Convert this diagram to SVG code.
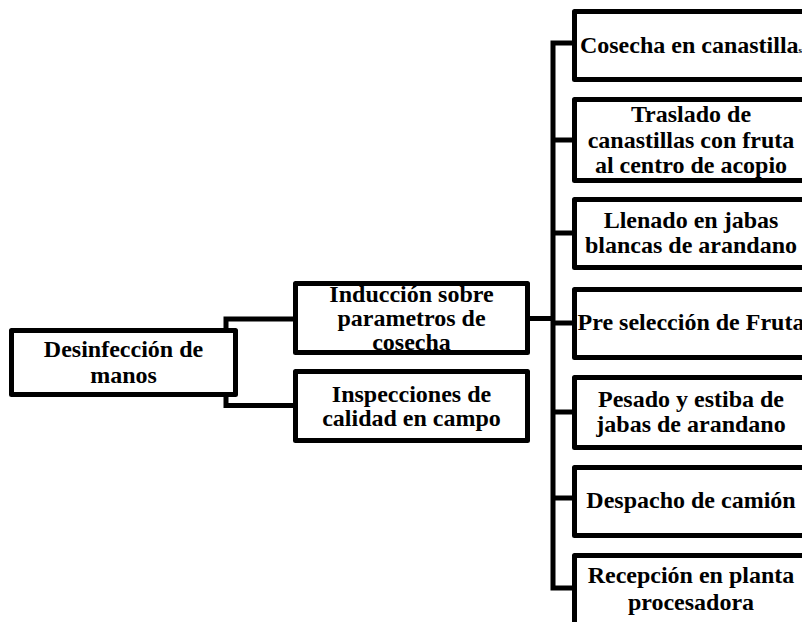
<svg xmlns="http://www.w3.org/2000/svg" width="802" height="622" viewBox="0 0 802 622">
<style>
.box{fill:#fff;stroke:#000;stroke-width:5;stroke-linejoin:round}
.t{font-family:"Liberation Serif","Times New Roman",serif;font-weight:bold;font-size:24px;fill:#000;text-anchor:middle}
.c{fill:none;stroke:#000;stroke-width:5;stroke-linejoin:miter}
</style>
<rect width="802" height="622" fill="#fff"/>
<g id="connectors">
<path class="c" d="M226 331 V319 H296 M226 394 V405.5 H296"/>
<path class="c" d="M528 318.5 H553 M575 43 H553 V588 H575 M553 140 H575 M553 233 H575 M553 323 H575 M553 412 H575 M553 498 H575"/>
</g>
<g id="n-desinfeccion">
<rect class="box" x="11.5" y="330.5" width="224" height="64"/>
<text class="t" x="123.5" y="357">Desinfección de</text>
<text class="t" x="123.5" y="383">manos</text>
</g>
<g id="n-induccion">
<rect class="box" x="295.5" y="283.5" width="232" height="69"/>
<text class="t" x="411.5" y="302">Inducción sobre</text>
<text class="t" x="411.5" y="326">parametros de</text>
<text class="t" x="411.5" y="350">cosecha</text>
</g>
<g id="n-inspecciones">
<rect class="box" x="295.5" y="371.5" width="232" height="69"/>
<text class="t" x="411.5" y="402">Inspecciones de</text>
<text class="t" x="411.5" y="426">calidad en campo</text>
</g>
<g id="n-cosecha">
<rect class="box" x="574.5" y="11.5" width="240" height="68"/>
<text class="t" x="691" y="53">Cosecha en canastilla<tspan font-size="9">s</tspan></text>
</g>
<g id="n-traslado">
<rect class="box" x="574.5" y="99.5" width="240" height="81"/>
<text class="t" x="691" y="122">Traslado de</text>
<text class="t" x="691" y="148">canastillas con fruta</text>
<text class="t" x="691" y="173">al centro de acopio</text>
</g>
<g id="n-llenado">
<rect class="box" x="574.5" y="199.5" width="240" height="68"/>
<text class="t" x="691" y="228">Llenado en jabas</text>
<text class="t" x="691" y="253">blancas de arandano</text>
</g>
<g id="n-preseleccion">
<rect class="box" x="574.5" y="289.5" width="240" height="68"/>
<text class="t" x="691" y="330">Pre selección de Fruta</text>
</g>
<g id="n-pesado">
<rect class="box" x="574.5" y="377.5" width="240" height="70"/>
<text class="t" x="691" y="407">Pesado y estiba de</text>
<text class="t" x="691" y="432">jabas de arandano</text>
</g>
<g id="n-despacho">
<rect class="box" x="574.5" y="467.5" width="240" height="68"/>
<text class="t" x="691" y="508">Despacho de camión</text>
</g>
<g id="n-recepcion">
<rect class="box" x="574.5" y="555.5" width="240" height="80"/>
<text class="t" x="691" y="583">Recepción en planta</text>
<text class="t" x="691" y="610">procesadora</text>
</g>
</svg>
